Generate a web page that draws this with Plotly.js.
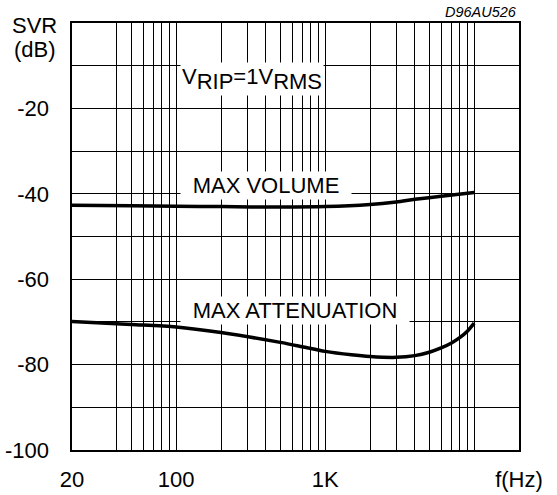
<!DOCTYPE html>
<html>
<head>
<meta charset="utf-8">
<script src="https://cdn.plot.ly/plotly-3.0.1.min.js"></script>
<style>
  html, body { margin: 0; padding: 0; background: #fff; }
  #chart { width: 557px; height: 495px; }
</style>
</head>
<body>
<div id="chart"></div>
<script>
// ---- data ----
const freqVol = [20, 50, 100, 200, 500, 1000, 2000, 3000, 4000, 6000, 10000];
const svrVol  = [-42.7, -42.8, -42.9, -43.0, -43.1, -43.0, -42.5, -41.9, -41.3, -40.6, -39.7];

const freqAtt = [20, 50, 100, 200, 500, 700, 1000, 1500, 2000, 3000, 4000, 5000, 6000, 7000, 8000, 9000, 10000];
const svrAtt  = [-69.9, -70.6, -71.2, -72.5, -74.8, -75.8, -76.9, -77.7, -78.1, -78.3, -77.9, -77.1, -76.1, -75.0, -73.7, -72.2, -70.3];

const xTickVals = [20, 100, 1000, 20000];
const xTickText = ['20', '100', '1K', 'f(Hz)'];
const xGridVals = [40, 50, 60, 70, 80, 90, 200, 300, 400, 500, 600, 700, 800, 900,
                   2000, 3000, 4000, 5000, 6000, 7000, 8000, 9000, 10000];
const yTickVals = [-100, -80, -60, -40, -20];
const yTickText = ['-100', '-80', '-60', '-40', '-20'];
const yGridVals = [-90, -70, -50, -30, -10];

const seriesNames = ['MAX VOLUME', 'MAX ATTENUATION'];
const ripLabel = 'V<sub><span style="font-size:22px">RIP</span></sub>=1V<sub><span style="font-size:22px">RMS</span></sub>';
const figId = 'D96AU526';

// ---- chart ----
const FONT = 'Arial, "Liberation Sans", Helvetica, sans-serif';
const FS = 22;
const lineStyle = {color: '#000', width: 3.5, shape: 'spline', smoothing: 0.8};

const traces = [
  {x: freqVol, y: svrVol, name: seriesNames[0], mode: 'lines', line: lineStyle, hoverinfo: 'skip'},
  {x: freqAtt, y: svrAtt, name: seriesNames[1], mode: 'lines', line: lineStyle, hoverinfo: 'skip'}
];

const labelBox = {xref: 'paper', yref: 'y', showarrow: false, bgcolor: '#fff',
                  font: {family: FONT, size: FS, color: '#000'}, xanchor: 'left', yanchor: 'middle',
                  align: 'center', borderpad: 0};

const layout = {
  width: 557, height: 495,
  margin: {l: 72, r: 38, t: 23, b: 45},
  paper_bgcolor: '#fff', plot_bgcolor: '#fff',
  showlegend: false,
  font: {family: FONT, size: FS, color: '#000'},
  xaxis: {
    type: 'log',
    range: [Math.log10(20), Math.log10(20000)],
    tickmode: 'array', tickvals: xTickVals, ticktext: xTickText,
    ticks: 'outside', ticklen: 9, tickcolor: 'rgba(0,0,0,0)',
    showgrid: true, gridcolor: '#000', gridwidth: 1,
    minor: {tickmode: 'array', tickvals: xGridVals, showgrid: true, gridcolor: '#000', gridwidth: 1, ticks: ''},
    showline: true, linecolor: '#000', linewidth: 1.6, mirror: true,
    zeroline: false, fixedrange: true,
    tickfont: {family: FONT, size: FS, color: '#000'}
  },
  yaxis: {
    range: [-100, 0],
    tickmode: 'array', tickvals: yTickVals, ticktext: yTickText,
    ticks: 'outside', ticklen: 17, tickcolor: 'rgba(0,0,0,0)',
    showgrid: true, gridcolor: '#000', gridwidth: 1,
    minor: {tickmode: 'array', tickvals: yGridVals, showgrid: true, gridcolor: '#000', gridwidth: 1, ticks: ''},
    showline: true, linecolor: '#000', linewidth: 1.6, mirror: true,
    zeroline: false, fixedrange: true,
    tickfont: {family: FONT, size: FS, color: '#000'}
  },
  annotations: [
    {text: 'SVR', xref: 'paper', yref: 'paper', x: -0.083, y: 0.994, xanchor: 'center', yanchor: 'middle',
     showarrow: false, font: {family: FONT, size: FS, color: '#000'}},
    {text: '(dB)', xref: 'paper', yref: 'paper', x: -0.083, y: 0.939, xanchor: 'center', yanchor: 'middle',
     showarrow: false, font: {family: FONT, size: FS, color: '#000'}},
    {text: '<i>' + figId + '</i>', xref: 'paper', yref: 'paper', x: 1.0, y: 1.026, xanchor: 'right', yanchor: 'middle',
     showarrow: false, font: {family: FONT, size: 14.5, color: '#000'}},
    Object.assign({}, labelBox, {text: ripLabel, x: 0.2416, y: -13.2, width: 142, height: 32}),
    Object.assign({}, labelBox, {text: seriesNames[0], x: 0.2416, y: -38.0, width: 170, height: 27}),
    Object.assign({}, labelBox, {text: seriesNames[1], x: 0.2416, y: -67.4, width: 228, height: 27})
  ]
};

Plotly.newPlot('chart', traces, layout, {displayModeBar: false, staticPlot: true});
</script>
</body>
</html>
